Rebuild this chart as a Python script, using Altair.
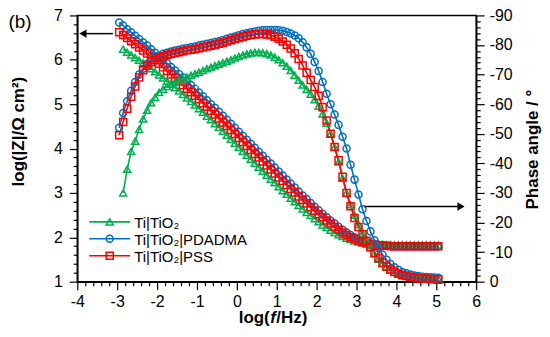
import altair as alt
import pandas as pd

# ---------------- data ----------------
SERIES = ["Ti|TiO\u2082", "Ti|TiO\u2082|PDADMA", "Ti|TiO\u2082|PSS"]
COLORS = ["#00B050", "#0070C0", "#FF0000"]
SHAPES = ["triangle-up", "circle", "square"]

LOGF_BR = [-2.95, -2.85, -2.75, -2.65, -2.55, -2.45, -2.35, -2.25, -2.15, -2.05,
           -1.95, -1.85, -1.75, -1.65, -1.55, -1.45, -1.35, -1.25, -1.15, -1.05,
           -0.95, -0.85, -0.75, -0.65, -0.55, -0.45, -0.35, -0.25, -0.15, -0.05,
           0.05, 0.15, 0.25, 0.35, 0.45, 0.55, 0.65, 0.75, 0.85, 0.95,
           1.05, 1.15, 1.25, 1.35, 1.45, 1.55, 1.65, 1.75, 1.85, 1.95,
           2.05, 2.15, 2.25, 2.35, 2.45, 2.55, 2.65, 2.75, 2.85, 2.95,
           3.05, 3.15, 3.25, 3.35, 3.45, 3.55, 3.65, 3.75, 3.85, 3.95,
           4.05, 4.15, 4.25, 4.35, 4.45, 4.55, 4.65, 4.75, 4.85, 4.95, 5.05]
LOGF_G = LOGF_BR[1:]

LOGZ_G = [6.24, 6.17, 6.11, 6.05, 5.99, 5.93, 5.86, 5.80, 5.73,
          5.66, 5.59, 5.52, 5.45, 5.37, 5.30, 5.22, 5.14, 5.06, 4.98,
          4.90, 4.82, 4.73, 4.65, 4.56, 4.48, 4.39, 4.30, 4.21, 4.12,
          4.03, 3.94, 3.85, 3.76, 3.67, 3.58, 3.49, 3.40, 3.31, 3.23,
          3.14, 3.05, 2.97, 2.88, 2.80, 2.72, 2.64, 2.56, 2.49, 2.42,
          2.35, 2.28, 2.22, 2.16, 2.11, 2.06, 2.02, 1.98, 1.95, 1.92,
          1.90, 1.88, 1.87, 1.86, 1.85, 1.84, 1.84, 1.83, 1.83, 1.83,
          1.83, 1.83, 1.83, 1.83, 1.83, 1.83, 1.83, 1.83, 1.83, 1.83, 1.83]
LOGZ_B = [6.84, 6.77, 6.69, 6.62, 6.54, 6.47, 6.39, 6.32, 6.24, 6.16,
          6.08, 6.00, 5.92, 5.84, 5.76, 5.68, 5.60, 5.52, 5.43, 5.35,
          5.26, 5.18, 5.09, 5.00, 4.92, 4.83, 4.74, 4.65, 4.56, 4.47,
          4.38, 4.29, 4.20, 4.11, 4.02, 3.93, 3.84, 3.75, 3.66, 3.57,
          3.48, 3.39, 3.30, 3.21, 3.12, 3.03, 2.94, 2.86, 2.77, 2.69,
          2.61, 2.53, 2.45, 2.38, 2.31, 2.24, 2.17, 2.11, 2.05, 2.00,
          1.96, 1.92, 1.89, 1.87, 1.85, 1.83, 1.82, 1.81, 1.81, 1.80,
          1.80, 1.80, 1.80, 1.80, 1.80, 1.80, 1.80, 1.80, 1.80, 1.80, 1.80]
LOGZ_R = [6.62, 6.56, 6.49, 6.42, 6.35, 6.28, 6.21, 6.14, 6.06, 5.99,
          5.91, 5.83, 5.75, 5.67, 5.59, 5.51, 5.43, 5.35, 5.27, 5.19,
          5.11, 5.02, 4.94, 4.85, 4.77, 4.68, 4.59, 4.51, 4.42, 4.33,
          4.24, 4.15, 4.06, 3.97, 3.88, 3.80, 3.71, 3.62, 3.53, 3.44,
          3.35, 3.27, 3.18, 3.09, 3.01, 2.92, 2.84, 2.76, 2.68, 2.60,
          2.52, 2.45, 2.38, 2.31, 2.24, 2.17, 2.11, 2.05, 2.00, 1.96,
          1.92, 1.89, 1.86, 1.84, 1.83, 1.82, 1.81, 1.81, 1.80, 1.80,
          1.80, 1.80, 1.80, 1.80, 1.80, 1.80, 1.80, 1.80, 1.80, 1.80, 1.80]

PH_G = [-30, -38, -44, -47.5, -51.5, -55, -58, -60.5, -62.3,
        -64, -65.1, -66, -66.8, -67.4, -68, -68.6, -69.2, -69.8, -70.3,
        -70.8, -71.4, -72, -72.5, -73, -73.5, -74, -74.5, -75, -75.6,
        -76.1, -76.6, -77, -77.3, -77.5, -77.5, -77.4, -77.1, -76.6, -75.9,
        -75, -74, -72.8, -71.4, -69.8, -68.1, -66.5, -65, -63.4, -61.5,
        -59.3, -56.7, -53.6, -50, -45.5, -40.5, -35, -30, -26, -22.5,
        -19.3, -16.4, -13.8, -11.5, -9.4, -7.6, -6.1, -4.9, -3.9, -3.2,
        -2.6, -2.2, -1.9, -1.7, -1.5, -1.4, -1.3, -1.2, -1.1, -1, -1]
PH_B = [-52, -57, -61, -64.5, -67.5, -70, -72, -73.6, -74.8, -75.7,
        -76.4, -77, -77.4, -77.8, -78.1, -78.4, -78.7, -79, -79.2, -79.5,
        -79.8, -80.1, -80.4, -80.7, -81, -81.3, -81.7, -82.1, -82.5, -82.9,
        -83.3, -83.7, -84, -84.3, -84.6, -84.8, -85, -85.1, -85.1, -85.1,
        -85, -84.8, -84.4, -83.9, -83.2, -82.3, -80.9, -79.2, -77, -74.3,
        -71.2, -67.5, -63.5, -60, -56.5, -53, -49, -45, -39.5, -34.5,
        -29.5, -24.5, -20.5, -17, -14, -11.4, -9.2, -7.4, -6, -4.9,
        -4, -3.3, -2.8, -2.4, -2.1, -1.9, -1.7, -1.6, -1.5, -1.4, -1.3]
PH_R = [-49.5, -54, -58.5, -62.5, -66, -69, -71.5, -73, -74.2, -75,
        -75.7, -76.2, -76.6, -77, -77.3, -77.6, -77.9, -78.2, -78.4, -78.6,
        -78.9, -79.2, -79.5, -79.8, -80.1, -80.4, -80.8, -81.2, -81.6, -82,
        -82.4, -82.8, -83.1, -83.4, -83.6, -83.7, -83.7, -83.6, -83.3, -82.8,
        -82.1, -81.2, -80.1, -78.8, -77.2, -75.3, -73.1, -70.6, -68.2, -65.8,
        -62.8, -59, -54.5, -50, -45.5, -41, -35.5, -30, -25.5, -21.5,
        -18.5, -16, -13.8, -11.7, -9.8, -8, -6.4, -5.1, -4.1, -3.3,
        -2.7, -2.2, -1.9, -1.6, -1.4, -1.2, -1.1, -1, -0.9, -0.8, -0.7]

# arrows pointing to the axes (data coordinates)
ARROW_Z = {"tail": -3.11, "tip": -3.80, "head": -3.86, "y": 6.59}
ARROW_PH = {"tail": 3.2, "tip": 5.55, "head": 5.62, "y": -25.4}

rows = []
for name, lf, lz, ph in [(SERIES[0], LOGF_G, LOGZ_G, PH_G),
                         (SERIES[1], LOGF_BR, LOGZ_B, PH_B),
                         (SERIES[2], LOGF_BR, LOGZ_R, PH_R)]:
    for a, b, c in zip(lf, lz, ph):
        rows.append({"series": name, "logf": a, "logZ": b, "phase": c})
df = pd.DataFrame(rows)

# ---------------- styling ----------------
FONT = "Liberation Sans"
W, H = 400, 267
ONE = alt.Data(values=[{}])

MAJ_X = "abs(datum.value - round(datum.value)) < 0.001"
MAJ_P = "abs(datum.value % 10) < 0.001"

common_axis = dict(grid=False, domainColor="black", domainWidth=1.5, tickColor="black",
                   tickWidth=1.2, labelFont=FONT, labelFontSize=16, labelColor="black",
                   labelOverlap=False, labelFlush=False, titleFont=FONT, titleFontSize=17,
                   titleFontWeight="bold", titleColor="black")

x_axis = alt.Axis(values=[round(-4 + 0.2 * i, 1) for i in range(51)], title=None,
                  labelExpr=f"{MAJ_X} ? toString(round(datum.value)) : ''",
                  tickSize={"condition": {"test": MAJ_X, "value": 8}, "value": 4},
                  labelPadding=4, **common_axis)
z_axis = alt.Axis(orient="left", values=[round(1 + 0.2 * i, 1) for i in range(31)],
                  title="log(|Z|/\u03a9 cm\u00b2)",
                  labelExpr=f"{MAJ_X} ? toString(round(datum.value)) : ''",
                  tickSize={"condition": {"test": MAJ_X, "value": 8}, "value": 4},
                  labelPadding=7, titleX=-59, titleY=116, titleAngle=270,
                  titleAlign="center", titleBaseline="middle", **common_axis)
p_axis = alt.Axis(orient="right", values=list(range(-90, 1, 2)),
                  title="Phase angle / \u00b0",
                  labelExpr=f"{MAJ_P} ? toString(round(datum.value)) : ''",
                  tickSize={"condition": {"test": MAJ_P, "value": 8}, "value": 4},
                  labelPadding=5, titleX=56, titleY=134, titleAngle=270,
                  titleAlign="center", titleBaseline="middle", **common_axis)

xs = alt.Scale(domain=[-4, 6], nice=False, zero=False)
zs = alt.Scale(domain=[1, 7], nice=False, zero=False)
ps = alt.Scale(domain=[0, -90], nice=False, zero=False)

color = alt.Color("series:N", scale=alt.Scale(domain=SERIES, range=COLORS), legend=None)
shape = alt.Shape("series:N", scale=alt.Scale(domain=SERIES, range=SHAPES), legend=None)
X = alt.X("logf:Q", scale=xs, axis=x_axis)

base = alt.Chart(df)

z_line = base.mark_line(strokeWidth=1.6).encode(
    x=X, y=alt.Y("logZ:Q", scale=zs, axis=z_axis), color=color, detail="series:N")
z_pts = base.mark_point(filled=False, strokeWidth=1.5, size=50, opacity=1).encode(
    x=X, y=alt.Y("logZ:Q", scale=zs, axis=z_axis), color=color, shape=shape)

adz = pd.DataFrame([ARROW_Z])
z_ar = alt.Chart(adz).mark_rule(color="black", strokeWidth=1.5).encode(
    x=alt.X("tail:Q", scale=xs, axis=x_axis), x2="tip:Q",
    y=alt.Y("y:Q", scale=zs, axis=z_axis))
z_hd = alt.Chart(adz).mark_point(shape="triangle-left", filled=True, color="black",
                                 size=70, opacity=1).encode(
    x=alt.X("head:Q", scale=xs, axis=x_axis), y=alt.Y("y:Q", scale=zs, axis=z_axis))

p_line = base.mark_line(strokeWidth=1.6).encode(
    x=X, y=alt.Y("phase:Q", scale=ps, axis=p_axis), color=color, detail="series:N")
p_pts = base.mark_point(filled=False, strokeWidth=1.5, size=50, opacity=1).encode(
    x=X, y=alt.Y("phase:Q", scale=ps, axis=p_axis), color=color, shape=shape)

adp = pd.DataFrame([ARROW_PH])
p_ar = alt.Chart(adp).mark_rule(color="black", strokeWidth=1.5).encode(
    x=alt.X("tail:Q", scale=xs, axis=x_axis), x2="tip:Q",
    y=alt.Y("y:Q", scale=ps, axis=p_axis))
p_hd = alt.Chart(adp).mark_point(shape="triangle-right", filled=True, color="black",
                                 size=70, opacity=1).encode(
    x=alt.X("head:Q", scale=xs, axis=x_axis), y=alt.Y("y:Q", scale=ps, axis=p_axis))

zlayer = alt.layer(z_line, z_pts, z_ar, z_hd)
player = alt.layer(p_line, p_pts, p_ar, p_hd)

# custom legend
extras = []
LEG_Y = [207, 224, 241]
for name, col, shp, yy in zip(SERIES, COLORS, SHAPES, LEG_Y):
    extras.append(alt.Chart(ONE).mark_rule(color=col, strokeWidth=1.6).encode(
        x=alt.value(12), x2=alt.value(53), y=alt.value(yy)))
    extras.append(alt.Chart(ONE).mark_point(shape=shp, color=col, filled=False,
                                            strokeWidth=1.5, size=50, opacity=1).encode(
        x=alt.value(32.5), y=alt.value(yy)))
    extras.append(alt.Chart(ONE).mark_text(text=name, align="left", baseline="middle",
                                           font=FONT, fontSize=15, color="black").encode(
        x=alt.value(57), y=alt.value(yy + 1)))

# x-axis title with italic f
XT_Y = H + 36
extras.append(alt.Chart(ONE).mark_text(text="log(", align="right", baseline="middle",
                                       font=FONT, fontSize=17, fontWeight="bold",
                                       color="black").encode(x=alt.value(193), y=alt.value(XT_Y)))
extras.append(alt.Chart(ONE).mark_text(text="f", align="left", baseline="middle",
                                       font=FONT, fontSize=17, fontWeight="bold",
                                       fontStyle="italic", color="black").encode(
    x=alt.value(193.5), y=alt.value(XT_Y)))
extras.append(alt.Chart(ONE).mark_text(text="/Hz)", align="left", baseline="middle",
                                       font=FONT, fontSize=17, fontWeight="bold",
                                       color="black").encode(x=alt.value(199.5), y=alt.value(XT_Y)))
# panel label
extras.append(alt.Chart(ONE).mark_text(text="(b)", align="left", baseline="middle",
                                       font=FONT, fontSize=19, color="black").encode(
    x=alt.value(-69), y=alt.value(7)))

chart = alt.layer(zlayer, player, *extras).resolve_scale(y="independent").properties(
    width=W, height=H,
    autosize=alt.AutoSizeParams(type="none"),
    padding={"left": 69.5, "top": 7, "right": 66, "bottom": 47},
    background="white",
).configure_view(stroke="black", strokeWidth=1.5)

chart.save("out.html", embed_options={"renderer": "svg", "actions": False})
